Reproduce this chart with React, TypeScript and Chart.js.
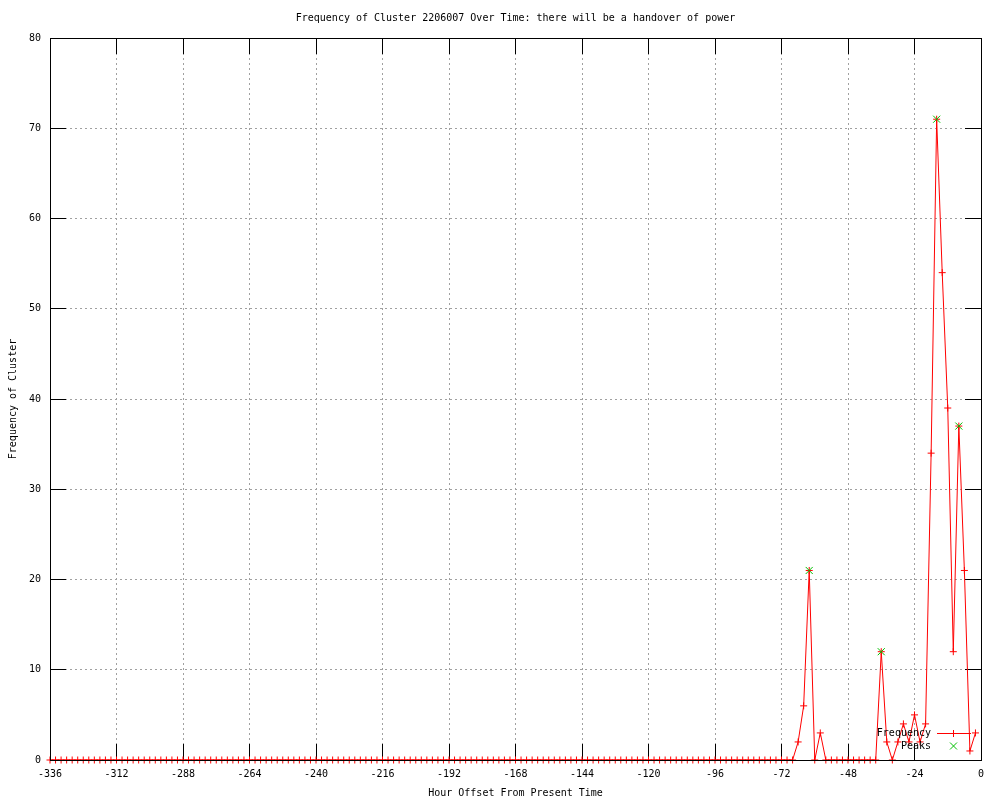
import React, { useEffect, useRef } from "react";
import { Chart, registerables } from "chart.js";

Chart.register(...registerables);

const TITLE = "Frequency of Cluster 2206007 Over Time: there will be a handover of power";
const X_TITLE = "Hour Offset From Present Time";
const Y_TITLE = "Frequency of Cluster";
const SERIES_LABELS = ["Frequency", "Peaks"];

const hours = [
  -336, -334, -332, -330, -328, -326, -324, -322, -320, -318, -316, -314,
  -312, -310, -308, -306, -304, -302, -300, -298, -296, -294, -292, -290,
  -288, -286, -284, -282, -280, -278, -276, -274, -272, -270, -268, -266,
  -264, -262, -260, -258, -256, -254, -252, -250, -248, -246, -244, -242,
  -240, -238, -236, -234, -232, -230, -228, -226, -224, -222, -220, -218,
  -216, -214, -212, -210, -208, -206, -204, -202, -200, -198, -196, -194,
  -192, -190, -188, -186, -184, -182, -180, -178, -176, -174, -172, -170,
  -168, -166, -164, -162, -160, -158, -156, -154, -152, -150, -148, -146,
  -144, -142, -140, -138, -136, -134, -132, -130, -128, -126, -124, -122,
  -120, -118, -116, -114, -112, -110, -108, -106, -104, -102, -100, -98,
  -96, -94, -92, -90, -88, -86, -84, -82, -80, -78, -76, -74,
  -72, -70, -68, -66, -64, -62, -60, -58, -56, -54, -52, -50,
  -48, -46, -44, -42, -40, -38, -36, -34, -32, -30, -28, -26,
  -24, -22, -20, -18, -16, -14, -12, -10, -8, -6, -4, -2,
];

const frequency = [
  0, 0, 0, 0, 0, 0, 0, 0, 0, 0, 0, 0,
  0, 0, 0, 0, 0, 0, 0, 0, 0, 0, 0, 0,
  0, 0, 0, 0, 0, 0, 0, 0, 0, 0, 0, 0,
  0, 0, 0, 0, 0, 0, 0, 0, 0, 0, 0, 0,
  0, 0, 0, 0, 0, 0, 0, 0, 0, 0, 0, 0,
  0, 0, 0, 0, 0, 0, 0, 0, 0, 0, 0, 0,
  0, 0, 0, 0, 0, 0, 0, 0, 0, 0, 0, 0,
  0, 0, 0, 0, 0, 0, 0, 0, 0, 0, 0, 0,
  0, 0, 0, 0, 0, 0, 0, 0, 0, 0, 0, 0,
  0, 0, 0, 0, 0, 0, 0, 0, 0, 0, 0, 0,
  0, 0, 0, 0, 0, 0, 0, 0, 0, 0, 0, 0,
  0, 0, 0, 2, 6, 21, 0, 3, 0, 0, 0, 0,
  0, 0, 0, 0, 0, 0, 12, 2, 0, 2, 4, 2,
  5, 2, 4, 34, 71, 54, 39, 12, 37, 21, 1, 3,
];

const peakHours = [-62, -36, -16, -8];
const peakValues = [21, 12, 71, 37];

const X_MIN = -336;
const X_MAX = 0;
const X_STEP = 24;
const Y_MIN = 0;
const Y_MAX = 80;
const Y_STEP = 10;

const FONT = "'DejaVu Sans Mono', 'Liberation Mono', monospace";
const RED = "#ff0000";
const GREEN = "#00c000";

const align = (p: number) => Math.round(p - 0.5) + 0.5;

const framePlugin = {
  id: "gnuplotFrame",
  beforeDatasetsDraw(chart: any) {
    const { ctx, chartArea, scales } = chart;
    const { left, right, top, bottom } = chartArea;
    const len = 16;
    ctx.save();
    ctx.setLineDash([]);
    ctx.strokeStyle = "#000";
    ctx.lineWidth = 1;
    ctx.beginPath();
    scales.x.ticks.forEach((t: any) => {
      if (t.value <= X_MIN || t.value >= X_MAX) return;
      const px = align(scales.x.getPixelForValue(t.value));
      ctx.moveTo(px, bottom);
      ctx.lineTo(px, bottom - len);
      ctx.moveTo(px, top);
      ctx.lineTo(px, top + len);
    });
    scales.y.ticks.forEach((t: any) => {
      if (t.value <= Y_MIN || t.value >= Y_MAX) return;
      const py = align(scales.y.getPixelForValue(t.value));
      ctx.moveTo(left, py);
      ctx.lineTo(left + len, py);
      ctx.moveTo(right, py);
      ctx.lineTo(right - len, py);
    });
    ctx.stroke();
    ctx.restore();
  },
  afterDatasetsDraw(chart: any) {
    const { ctx, chartArea } = chart;
    const l = align(chartArea.left);
    const r = align(chartArea.right);
    const t = align(chartArea.top);
    const b = align(chartArea.bottom);
    ctx.save();
    ctx.setLineDash([]);
    ctx.globalAlpha = 1;
    ctx.strokeStyle = "#000";
    ctx.lineWidth = 1;
    ctx.strokeRect(l, t, r - l, b - t);

    // key
    ctx.font = `10px ${FONT}`;
    ctx.fillStyle = "#000";
    ctx.textAlign = "right";
    ctx.textBaseline = "middle";
    ctx.fillText(SERIES_LABELS[0], 931, 733);
    ctx.fillText(SERIES_LABELS[1], 931, 746);

    ctx.fillStyle = RED;
    ctx.fillRect(937, 733, 34, 1);
    ctx.fillRect(953, 730, 1, 7);

    ctx.strokeStyle = GREEN;
    ctx.beginPath();
    ctx.moveTo(950, 742.5);
    ctx.lineTo(957, 749.5);
    ctx.moveTo(957, 742.5);
    ctx.lineTo(950, 749.5);
    ctx.stroke();
    ctx.restore();
  },
};

export default function App() {
  const ref = useRef<HTMLCanvasElement>(null);

  useEffect(() => {
    const freqData = hours.map((h, i) => ({ x: h, y: frequency[i] }));
    const peakData = peakHours.map((h, i) => ({ x: h, y: peakValues[i] }));

    const chart = new Chart(ref.current as HTMLCanvasElement, {
      type: "line",
      data: {
        datasets: [
          {
            label: SERIES_LABELS[0],
            data: freqData,
            borderColor: RED,
            backgroundColor: RED,
            borderWidth: 1,
            pointStyle: "cross",
            pointRadius: 3.5,
            pointBorderWidth: 1,
            pointBorderColor: RED,
            tension: 0,
            fill: false,
            clip: false as any,
            order: 1,
          },
          {
            label: SERIES_LABELS[1],
            data: peakData,
            showLine: false,
            borderColor: GREEN,
            backgroundColor: GREEN,
            pointStyle: "crossRot",
            pointRadius: 5,
            pointBorderWidth: 1,
            pointBorderColor: GREEN,
            clip: false as any,
            order: 0,
          },
        ],
      },
      options: {
        animation: false,
        responsive: false,
        events: [],
        layout: { padding: { top: 0, left: 0, right: 19, bottom: 0 } },
        plugins: {
          legend: { display: false },
          tooltip: { enabled: false },
          title: {
            display: true,
            fullSize: false,
            text: TITLE,
            color: "#000",
            font: { family: FONT, size: 10, weight: "normal" as any },
            padding: { top: 12, bottom: 14 },
          },
        },
        scales: {
          x: {
            type: "linear",
            min: X_MIN,
            max: X_MAX,
            afterFit: (s: any) => {
              s.height = 40;
            },
            ticks: {
              stepSize: X_STEP,
              autoSkip: false,
              maxRotation: 0,
              color: "#000",
              padding: 8,
              font: { family: FONT, size: 10 },
            },
            grid: {
              color: "#a0a0a0",
              lineWidth: 1,
              drawTicks: false,
            },
            border: { display: false, dash: [2, 3] },
            title: {
              display: true,
              text: X_TITLE,
              color: "#000",
              font: { family: FONT, size: 10 },
              padding: { top: 0, bottom: 1 },
            },
          },
          y: {
            type: "linear",
            min: Y_MIN,
            max: Y_MAX,
            afterFit: (s: any) => {
              s.width = 50;
            },
            ticks: {
              stepSize: Y_STEP,
              color: "#000",
              padding: 9,
              font: { family: FONT, size: 10 },
            },
            grid: {
              color: "#a0a0a0",
              lineWidth: 1,
              drawTicks: false,
            },
            border: { display: false, dash: [2, 3] },
            title: {
              display: true,
              text: Y_TITLE,
              color: "#000",
              font: { family: FONT, size: 10 },
              padding: { top: 7, bottom: 0 },
            },
          },
        },
      },
      plugins: [framePlugin],
    });

    return () => chart.destroy();
  }, []);

  return (
    <div style={{ position: "fixed", left: 0, top: 0, width: 1000, height: 800, background: "#fff" }}>
      <canvas ref={ref} width={1000} height={800} style={{ display: "block" }} />
    </div>
  );
}
